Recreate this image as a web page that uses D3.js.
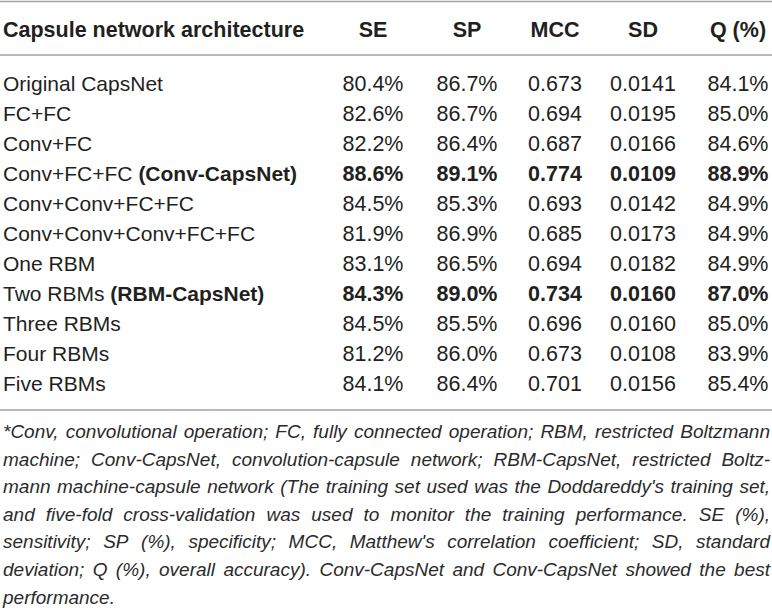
<!DOCTYPE html>
<html>
<head>
<meta charset="utf-8">
<script src="https://cdn.jsdelivr.net/npm/d3@7"></script>
<style>
  body { margin: 0; background: #fff; }
  text { font-family: "Liberation Sans", Arial, Helvetica, sans-serif; fill: #231f20; }
</style>
</head>
<body>
<div id="viz"></div>
<script>
var width = 772,
    height = 614;

// table data
var columns = ["SE", "SP", "MCC", "SD", "Q (%)"];
var architectures = ["Original CapsNet", "FC+FC", "Conv+FC", "Conv+FC+FC", "Conv+Conv+FC+FC",
    "Conv+Conv+Conv+FC+FC", "One RBM", "Two RBMs", "Three RBMs", "Four RBMs", "Five RBMs"];
var nicknames = ["", "", "", "(Conv-CapsNet)", "", "", "", "(RBM-CapsNet)", "", "", ""];
var seValues = ["80.4%", "82.6%", "82.2%", "88.6%", "84.5%", "81.9%", "83.1%", "84.3%", "84.5%", "81.2%", "84.1%"];
var spValues = ["86.7%", "86.7%", "86.4%", "89.1%", "85.3%", "86.9%", "86.5%", "89.0%", "85.5%", "86.0%", "86.4%"];
var mccValues = ["0.673", "0.694", "0.687", "0.774", "0.693", "0.685", "0.694", "0.734", "0.696", "0.673", "0.701"];
var sdValues = ["0.0141", "0.0195", "0.0166", "0.0109", "0.0142", "0.0173", "0.0182", "0.0160", "0.0160", "0.0108", "0.0156"];
var qValues = ["84.1%", "85.0%", "84.6%", "88.9%", "84.9%", "84.9%", "84.9%", "87.0%", "85.0%", "83.9%", "85.4%"];
var footnote = [
    "*Conv, convolutional operation; FC, fully connected operation; RBM, restricted Boltzmann",
    "machine; Conv-CapsNet, convolution-capsule network; RBM-CapsNet, restricted Boltz-",
    "mann machine-capsule network (The training set used was the Doddareddy's training set,",
    "and five-fold cross-validation was used to monitor the training performance. SE (%),",
    "sensitivity; SP (%), specificity; MCC, Matthew's correlation coefficient; SD, standard",
    "deviation; Q (%), overall accuracy). Conv-CapsNet and Conv-CapsNet showed the best",
    "performance."
];

var series = [seValues, spValues, mccValues, sdValues, qValues];
var best = nicknames.map(function (d) { return d !== ""; });

var svg = d3.select("#viz")
    .append("svg")
    .attr("width", width)
    .attr("height", height);

// row positions (baselines)
var y = d3.scalePoint()
    .domain(d3.range(architectures.length))
    .range([90.5, 390.5]);

// column centres
var x = d3.scaleOrdinal()
    .domain(columns)
    .range([373, 467, 555, 643, 738]);

var rule = function (yy) {
    svg.append("line")
        .attr("x1", 0).attr("x2", width)
        .attr("y1", yy).attr("y2", yy)
        .attr("stroke", "#a3a3a3")
        .attr("stroke-width", 1.6);
};
rule(1.5);
rule(55);
rule(410);

// header
svg.append("text")
    .attr("x", 3)
    .attr("y", 37)
    .attr("font-size", 21.5)
    .attr("font-weight", "bold")
    .text("Capsule network architecture");

svg.selectAll(".head")
    .data(columns)
    .enter()
    .append("text")
    .attr("class", "head")
    .attr("x", function (d) { return x(d); })
    .attr("y", 37)
    .attr("text-anchor", "middle")
    .attr("font-size", 21.5)
    .attr("font-weight", "bold")
    .text(function (d) { return d; });

// row labels
var labels = svg.selectAll(".label")
    .data(architectures)
    .enter()
    .append("text")
    .attr("class", "label")
    .attr("x", 3)
    .attr("y", function (d, i) { return y(i); })
    .attr("font-size", 21);
labels.append("tspan").text(function (d) { return d; });
labels.append("tspan")
    .attr("font-weight", "bold")
    .text(function (d, i) { return nicknames[i] ? " " + nicknames[i] : ""; });

// values
columns.forEach(function (col, c) {
    svg.selectAll(".v" + c)
        .data(series[c])
        .enter()
        .append("text")
        .attr("class", "v" + c)
        .attr("x", x(col))
        .attr("y", function (d, i) { return y(i); })
        .attr("text-anchor", "middle")
        .attr("font-size", 21.5)
        .attr("font-weight", function (d, i) { return best[i] ? "bold" : "normal"; })
        .text(function (d) { return d; });
});

// footnote, justified between 3 and 770
var left = 3, right = 770;
footnote.forEach(function (line, li) {
    var words = line.split(" ");
    var g = svg.append("g");
    var yy = 438 + li * 27.6;
    var nodes = words.map(function (w) {
        return g.append("text")
            .attr("y", yy)
            .attr("font-size", 19)
            .attr("font-style", "italic")
            .style("fill", "#2b2b2b")
            .text(w);
    });
    var widths = nodes.map(function (n) { return n.node().getComputedTextLength(); });
    var total = d3.sum(widths);
    var last = li === footnote.length - 1;
    var gap = last || words.length < 2 ? 5.3 : (right - left - total) / (words.length - 1);
    var pos = left;
    nodes.forEach(function (n, i) {
        n.attr("x", pos);
        pos += widths[i] + gap;
    });
});
</script>
</body>
</html>
